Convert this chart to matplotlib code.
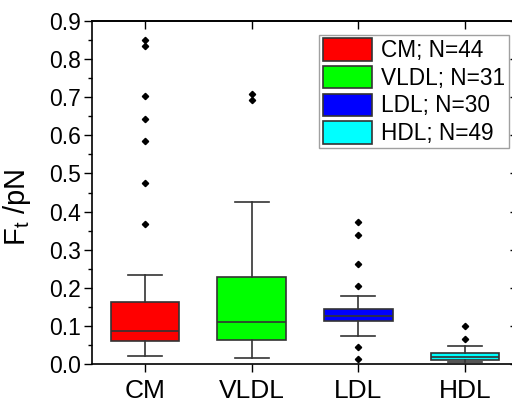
import matplotlib
matplotlib.use("Agg")
from matplotlib import pyplot as plt
from matplotlib.patches import Patch
from matplotlib.ticker import MultipleLocator

plt.rcParams['font.family'] = ['Liberation Sans', 'DejaVu Sans']
plt.rcParams['mathtext.fontset'] = 'custom'
plt.rcParams['mathtext.rm'] = 'Liberation Sans'
plt.rcParams['mathtext.it'] = 'Liberation Sans'

# values
groups = ["CM", "VLDL", "LDL", "HDL"]
counts = [44, 31, 30, 49]
colors = ["#ff0000", "#00ff00", "#0000ff", "#00ffff"]
whisker_low = [0.021, 0.017, 0.074, 0.004]
q1 = [0.061, 0.063, 0.113, 0.011]
median = [0.087, 0.109, 0.125, 0.018]
q3 = [0.162, 0.228, 0.144, 0.028]
whisker_high = [0.234, 0.424, 0.179, 0.048]
outliers = [
    [0.367, 0.476, 0.585, 0.644, 0.704, 0.835, 0.849],
    [0.693, 0.709],
    [0.013, 0.045, 0.205, 0.262, 0.339, 0.373],
    [0.065, 0.099],
]

stats = []
for i in range(len(groups)):
    stats.append({
        "label": groups[i],
        "whislo": whisker_low[i],
        "q1": q1[i],
        "med": median[i],
        "q3": q3[i],
        "whishi": whisker_high[i],
        "fliers": outliers[i],
    })

fig = plt.figure(figsize=(5.12, 4.05), dpi=100)
ax = fig.add_axes([0.1790, 0.1012, 0.8333, 0.8469])

line_col = "#333333"
bp = ax.bxp(stats, positions=[1, 2, 3, 4], widths=0.645, patch_artist=True,
            boxprops=dict(edgecolor=line_col, linewidth=1.2),
            medianprops=dict(color=line_col, linewidth=1.2),
            whiskerprops=dict(color=line_col, linewidth=1.2),
            capprops=dict(color=line_col, linewidth=1.2),
            capwidths=0.32,
            flierprops=dict(marker="D", markersize=3.2, markerfacecolor="black",
                            markeredgecolor="black"))
for box, c in zip(bp["boxes"], colors):
    box.set_facecolor(c)

ax.set_xlim(0.5, 4.5)
ax.set_ylim(0, 0.9)
ax.yaxis.set_major_locator(MultipleLocator(0.1))
ax.yaxis.set_minor_locator(MultipleLocator(0.05))
ax.set_yticklabels([f"{v:.1f}" for v in ax.get_yticks()])
ax.tick_params(axis="y", which="major", direction="out", length=6, width=1,
               labelsize=16.5, pad=2)
ax.tick_params(axis="y", which="minor", direction="out", length=3, width=1)
ax.tick_params(axis="x", which="major", direction="out", length=6, width=1,
               labelsize=19, pad=5)

# inward ticks on the top and right sides
top = ax.secondary_xaxis("top")
top.set_xticks([1, 2, 3, 4])
top.tick_params(direction="in", length=6, width=1, labeltop=False)
right = ax.secondary_yaxis("right")
right.yaxis.set_major_locator(MultipleLocator(0.1))
right.yaxis.set_minor_locator(MultipleLocator(0.05))
right.tick_params(which="major", direction="in", length=6, width=1, labelright=False)
right.tick_params(which="minor", direction="in", length=3, width=1)

for s in list(ax.spines.values()) + [top.spines["top"], right.spines["right"]]:
    s.set_linewidth(1.2)

ax.set_ylabel("F$_\\mathregular{t}$ /pN", fontsize=21)
ax.yaxis.set_label_coords(-0.138, 0.458)

handles = [Patch(facecolor=c, edgecolor=line_col, linewidth=1.2) for c in colors]
labels = [f"{g}; N={n}" for g, n in zip(groups, counts)]
leg = ax.legend(handles, labels, loc="upper right", bbox_to_anchor=(0.978, 0.959),
                fontsize=16.3, fancybox=False, edgecolor="#888888",
                handlelength=2.2, handleheight=1.15, handletextpad=0.4,
                labelspacing=0.16, borderpad=0.15, borderaxespad=0.0)
leg.get_frame().set_linewidth(1.0)

fig.savefig("out.png", dpi=100)
